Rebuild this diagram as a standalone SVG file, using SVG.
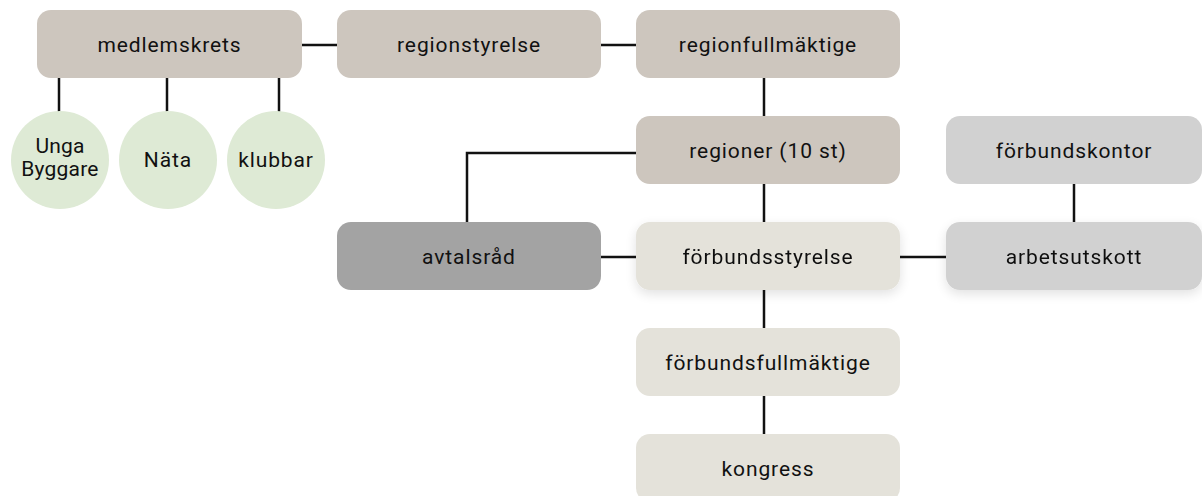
<svg xmlns="http://www.w3.org/2000/svg" width="1202" height="496" viewBox="0 0 1202 496">
<defs>
<style>
.box{rx:14px;ry:14px}
.t{font-family:Roboto,"Liberation Sans",sans-serif;font-size:21px;fill:#111;text-anchor:middle;letter-spacing:0.9px}
.s{letter-spacing:0.2px}
.warm{fill:#cdc6be}
.light{fill:#e4e2da}
.dark{fill:#a3a3a3}
.grey{fill:#d1d1d1}
.circ{fill:#deead5}
.c{stroke:#111;stroke-width:2.5;fill:none}
</style>
<filter id="sh" x="-20%" y="-20%" width="140%" height="160%">
<feGaussianBlur in="SourceAlpha" stdDeviation="6"/>
<feOffset dy="4"/>
<feComponentTransfer><feFuncA type="linear" slope="0.12"/></feComponentTransfer>
<feMerge><feMergeNode/><feMergeNode in="SourceGraphic"/></feMerge>
</filter>
</defs>
<rect width="1202" height="496" fill="#fff"/>
<g id="connectors">
<line class="c" x1="302" y1="45" x2="337" y2="45"/>
<line class="c" x1="601" y1="45" x2="636" y2="45"/>
<line class="c" x1="764" y1="78" x2="764" y2="117"/>
<polyline class="c" points="636,153 467,153 467,222"/>
<line class="c" x1="764" y1="184" x2="764" y2="222"/>
<line class="c" x1="601" y1="257" x2="636" y2="257"/>
<line class="c" x1="900" y1="257" x2="946" y2="257"/>
<line class="c" x1="1074" y1="184" x2="1074" y2="222"/>
<line class="c" x1="764" y1="290" x2="764" y2="328"/>
<line class="c" x1="764" y1="396" x2="764" y2="434"/>
<line class="c" x1="59" y1="78" x2="59" y2="113"/>
<line class="c" x1="167" y1="78" x2="167" y2="113"/>
<line class="c" x1="279" y1="78" x2="279" y2="113"/>
</g>
<g id="medlemskrets"><rect class="box warm" x="37" y="10" width="265" height="68"/><text class="t" x="169.5" y="52">medlemskrets</text></g>
<g id="regionstyrelse"><rect class="box warm" x="337" y="10" width="264" height="68"/><text class="t" x="469" y="52">regionstyrelse</text></g>
<g id="regionfullmaktige"><rect class="box warm" x="636" y="10" width="264" height="68"/><text class="t" x="768" y="52">regionfullmäktige</text></g>
<g id="regioner"><rect class="box warm" x="636" y="116" width="264" height="68"/><text class="t" x="768" y="158">regioner (10 st)</text></g>
<g id="forbundskontor"><rect class="box grey" x="946" y="116" width="256" height="68"/><text class="t" x="1074" y="158">förbundskontor</text></g>
<g id="avtalsrad"><rect class="box dark" x="337" y="222" width="264" height="68"/><text class="t" x="469" y="264">avtalsråd</text></g>
<g id="forbundsstyrelse" filter="url(#sh)"><rect class="box light" x="636" y="222" width="264" height="68"/><text class="t" x="768" y="264">förbundsstyrelse</text></g>
<g id="arbetsutskott" filter="url(#sh)"><rect class="box grey" x="946" y="222" width="256" height="68"/><text class="t" x="1074" y="264">arbetsutskott</text></g>
<g id="forbundsfullmaktige"><rect class="box light" x="636" y="328" width="264" height="68"/><text class="t" x="768" y="370">förbundsfullmäktige</text></g>
<g id="kongress"><rect class="box light" x="636" y="434" width="264" height="68"/><text class="t" x="768" y="476">kongress</text></g>
<g id="unga-byggare"><circle class="circ" cx="60" cy="160" r="49"/><text class="t s" x="60" y="153">Unga</text><text class="t s" x="60" y="176">Byggare</text></g>
<g id="nata"><circle class="circ" cx="168" cy="160" r="49"/><text class="t" x="168" y="167">Näta</text></g>
<g id="klubbar"><circle class="circ" cx="276" cy="160" r="49"/><text class="t" x="276" y="167">klubbar</text></g>
</svg>
